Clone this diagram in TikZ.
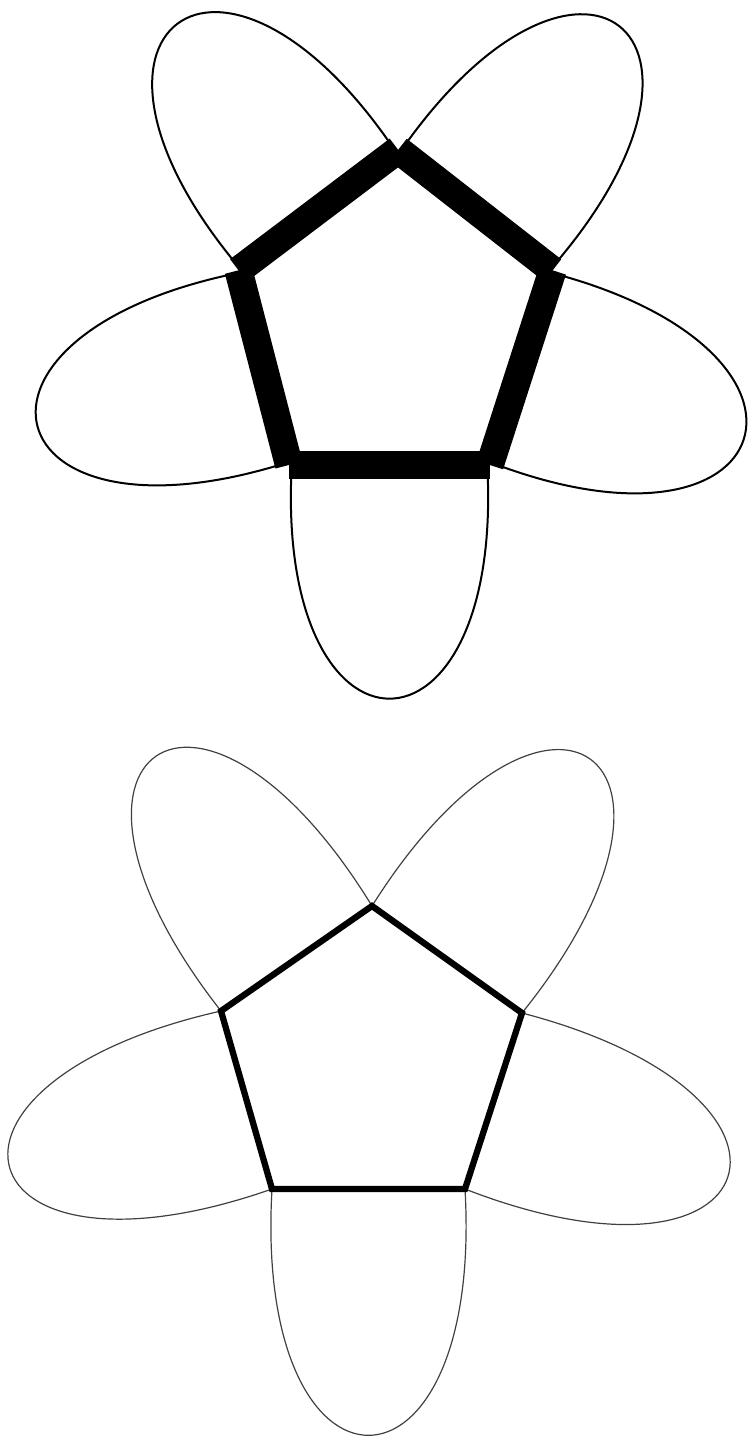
\documentclass[tikz,border=0pt]{standalone}
\usetikzlibrary{calc}
\tikzset{
  petalA/.style={draw=black, line width=2pt},
  petalB/.style={draw=black!75, line width=1.2pt},
  bandA/.style={draw=black, line width=28pt, line cap=butt},
  bandB/.style={draw=black, line width=6.3pt, line join=miter},
}
\begin{document}
\begin{tikzpicture}[x=1pt,y=-1pt]
\useasboundingbox (0,0) rectangle (753,1446);
% ---------- top figure ----------
\coordinate (T1) at (398,155);
\coordinate (R1) at (548,272);
\coordinate (BR1) at (487,461);
\coordinate (BL1) at (292,461);
\coordinate (L1) at (243,272);
\coordinate (C1) at (393.6,328.2);
\def\LA{317.5}\def\AA{93.5}
\foreach \p/\q in {T1/R1,R1/BR1,BR1/BL1,BL1/L1,L1/T1}{
  \draw[petalA] (\p) .. controls ($(\p)!\LA pt!\AA:(\q)$) and ($(\q)!\LA pt!-\AA:(\p)$) .. (\q);
}
\foreach \v in {T1,R1,BR1,BL1,L1}{
  \coordinate (\v o) at ($(C1)!1.03!(\v)$);
}
\draw[bandA] (T1o) -- (R1o);
\draw[bandA] (R1o) -- (BR1o);
\draw[bandA] (BR1o) -- (BL1o);
\draw[bandA] (BL1o) -- (L1o);
\draw[bandA] (L1o) -- (T1o);
% ---------- bottom figure ----------
\coordinate (T2) at (372,906);
\coordinate (R2) at (522,1013);
\coordinate (BR2) at (465,1189);
\coordinate (BL2) at (272,1189);
\coordinate (L2) at (221,1011);
\def\LB{329}\def\AB{93.3}
\foreach \p/\q in {T2/R2,R2/BR2,BR2/BL2,BL2/L2,L2/T2}{
  \draw[petalB] (\p) .. controls ($(\p)!\LB pt!\AB:(\q)$) and ($(\q)!\LB pt!-\AB:(\p)$) .. (\q);
}
\draw[bandB] (T2) -- (R2) -- (BR2) -- (BL2) -- (L2) -- cycle;
\end{tikzpicture}
\end{document}
